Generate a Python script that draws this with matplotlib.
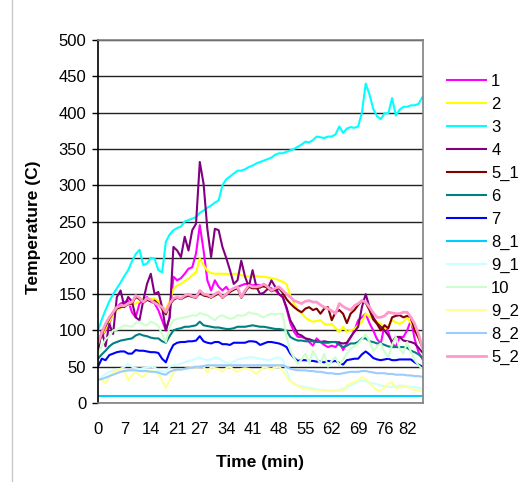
import matplotlib
matplotlib.use('Agg')
import matplotlib.pyplot as plt
from matplotlib.lines import Line2D
import numpy as np

plt.rcParams['font.family'] = ['Liberation Sans', 'DejaVu Sans']

# one reading per minute, 0..86
time = np.arange(87)

s1 = [86, 91, 100, 109, 125, 132, 137, 139, 141, 125,
      118, 137, 142, 146, 140, 137, 128, 114, 100, 118,
      174, 169, 172, 178, 185, 187, 206, 245, 210, 169,
      155, 169, 160, 155, 160, 153, 158, 160, 162, 164,
      164, 162, 163, 162, 160, 160, 158, 155, 150, 146,
      130, 110, 98, 91, 91, 89, 84, 79, 89, 84,
      80, 77, 79, 77, 84, 73, 82, 90, 100, 114,
      118, 123, 110, 100, 88, 82, 107, 98, 82, 77,
      91, 91, 100, 114, 88, 70, 61]
s2 = [84, 92, 102, 112, 122, 128, 131, 134, 135, 136,
      137, 140, 143, 144, 144, 144, 140, 132, 130, 140,
      157, 162, 164, 168, 171, 176, 180, 199, 190, 182,
      179, 178, 178, 178, 178, 177, 178, 178, 176, 175,
      174, 174, 175, 174, 174, 173, 172, 171, 169, 167,
      164, 148, 137, 128, 123, 118, 114, 112, 113, 114,
      109, 108, 109, 103, 98, 105, 98, 100, 102, 107,
      112, 123, 119, 116, 112, 109, 102, 106, 114, 111,
      109, 112, 118, 110, 102, 89, 77]
s3 = [100, 115, 128, 140, 150, 158, 166, 175, 183, 195,
      205, 211, 190, 192, 200, 199, 183, 180, 222, 232,
      238, 241, 243, 250, 252, 254, 256, 262, 265, 269,
      272, 276, 279, 300, 308, 312, 316, 320, 320, 322,
      325, 327, 330, 332, 334, 336, 338, 342, 344, 344,
      346, 348, 350, 353, 356, 360, 359, 362, 367, 366,
      365, 367, 367, 370, 381, 372, 378, 380, 379, 381,
      400, 440, 425, 405, 395, 391, 399, 399, 420, 396,
      404, 408, 408, 410, 410, 412, 421]
s4 = [72, 100, 78, 109, 95, 146, 155, 132, 146, 140,
      118, 114, 141, 164, 178, 150, 153, 132, 100, 118,
      215, 210, 201, 229, 210, 238, 247, 332, 302, 240,
      201, 240, 238, 215, 200, 183, 164, 169, 196, 174,
      160, 183, 160, 150, 152, 157, 169, 160, 150, 146,
      132, 114, 105, 95, 93, 89, 88, 86, 85, 84,
      85, 84, 84, 84, 83, 82, 83, 91, 98, 105,
      132, 150, 132, 118, 110, 105, 100, 93, 84, 91,
      91, 86, 85, 84, 82, 76, 70]
s5_1 = [80, 95, 106, 116, 124, 130, 132, 133, 136, 137,
        146, 143, 138, 142, 140, 141, 136, 130, 122, 135,
        142, 145, 143, 146, 148, 146, 145, 152, 148, 147,
        145, 148, 151, 145, 149, 153, 156, 158, 145, 153,
        160, 158, 158, 159, 162, 158, 154, 156, 158, 152,
        143, 137, 132, 128, 125, 130, 132, 128, 130, 123,
        130, 132, 114, 125, 128, 123, 110, 123, 128, 135,
        141, 138, 128, 115, 109, 100, 107, 103, 118, 120,
        121, 118, 120, 118, 100, 90, 77]
s6 = [61, 67, 72, 78, 82, 84, 86, 87, 88, 89,
      93, 95, 93, 92, 90, 89, 89, 85, 83, 92,
      100, 102, 103, 105, 105, 106, 107, 112, 107, 106,
      105, 104, 104, 103, 102, 102, 103, 105, 105, 105,
      106, 107, 106, 105, 105, 104, 103, 102, 102, 101,
      100, 91, 88, 86, 86, 85, 85, 85, 84, 84,
      83, 83, 84, 84, 80, 77, 79, 82, 82, 84,
      89, 89, 85, 84, 82, 82, 80, 78, 77, 77,
      77, 77, 76, 72, 70, 67, 63]
s7 = [50, 61, 59, 66, 68, 70, 71, 71, 68, 68,
      73, 72, 72, 71, 70, 70, 69, 61, 56, 70,
      80, 83, 84, 84, 85, 85, 86, 92, 85, 83,
      82, 84, 84, 81, 81, 80, 83, 83, 83, 83,
      85, 85, 84, 80, 82, 84, 84, 83, 82, 80,
      77, 68, 62, 58, 59, 59, 58, 58, 57, 57,
      56, 58, 57, 58, 55, 53, 59, 60, 61, 61,
      67, 71, 67, 62, 60, 59, 60, 61, 59, 59,
      60, 60, 60, 60, 56, 53, 50]
s8_1 = [10] * 87
s9_1 = [33, 36, 40, 43, 45, 46, 47, 50, 54, 50,
        48, 47, 48, 49, 50, 49, 45, 44, 43, 50,
        52, 53, 54, 56, 58, 59, 61, 63, 60, 59,
        60, 63, 62, 58, 56, 54, 57, 60, 61, 62,
        63, 63, 62, 61, 60, 59, 60, 62, 63, 60,
        45, 31, 26, 24, 23, 22, 21, 20, 19, 18,
        18, 17, 17, 17, 18, 20, 22, 24, 27, 29,
        31, 30, 28, 27, 26, 24, 23, 22, 22, 23,
        24, 24, 23, 22, 22, 21, 20]
s10 = [68, 78, 88, 92, 100, 101, 104, 107, 106, 105,
       110, 112, 108, 107, 112, 110, 106, 95, 84, 105,
       114, 116, 117, 118, 119, 121, 120, 124, 122, 121,
       117, 114, 119, 121, 118, 116, 117, 121, 120, 121,
       125, 123, 123, 120, 118, 121, 123, 122, 123, 123,
       91, 72, 62, 54, 60, 68, 54, 72, 62, 54,
       68, 50, 58, 63, 52, 60, 68, 75, 78, 82,
       88, 95, 84, 72, 78, 82, 70, 63, 80, 91,
       75, 68, 84, 70, 59, 52, 47]
s9_2 = [36, 31, 27, 36, 42, 45, 47, 45, 31, 38,
        43, 38, 36, 42, 45, 43, 40, 31, 21, 31,
        42, 45, 46, 47, 48, 50, 49, 50, 50, 42,
        50, 48, 47, 43, 48, 50, 46, 43, 47, 48,
        47, 44, 40, 45, 50, 48, 47, 49, 50, 45,
        36, 30, 27, 23, 21, 20, 19, 18, 18, 18,
        17, 17, 17, 17, 17, 17, 24, 27, 29, 31,
        36, 33, 27, 22, 18, 17, 22, 26, 29, 20,
        22, 22, 22, 20, 18, 17, 17]
s8_2 = [32, 33, 35, 37, 39, 41, 43, 44, 45, 45,
        45, 44, 44, 44, 43, 43, 42, 40, 39, 43,
        45, 46, 46, 47, 48, 49, 50, 50, 51, 52,
        52, 52, 52, 52, 52, 52, 52, 52, 52, 52,
        52, 52, 52, 52, 52, 52, 52, 52, 52, 52,
        50, 47, 46, 45, 45, 45, 44, 44, 43, 43,
        42, 41, 41, 40, 40, 41, 42, 43, 43, 43,
        44, 44, 43, 42, 41, 41, 41, 40, 40, 39,
        39, 39, 38, 38, 37, 37, 36]
s5_2 = [82, 97, 109, 118, 125, 132, 134, 134, 137, 139,
        148, 145, 139, 144, 142, 138, 135, 132, 125, 137,
        144, 146, 144, 148, 150, 147, 146, 155, 150, 149,
        146, 150, 153, 146, 150, 155, 158, 160, 146, 155,
        162, 160, 160, 161, 164, 160, 155, 158, 160, 155,
        150, 146, 141, 139, 137, 140, 141, 139, 139, 135,
        132, 130, 127, 123, 137, 133, 130, 128, 134, 137,
        141, 139, 132, 124, 118, 118, 120, 125, 124, 123,
        123, 125, 125, 118, 109, 95, 77]

labels = ['1', '2', '3', '4', '5_1', '6', '7', '8_1', '9_1', '10', '9_2', '8_2', '5_2']
series = [s1, s2, s3, s4, s5_1, s6, s7, s8_1, s9_1, s10, s9_2, s8_2, s5_2]
colors = ['#FF00FF', '#FFFF00', '#00FFFF', '#800080', '#800000', '#008080', '#0000FF',
          '#00CCFF', '#CCFFFF', '#CCFFCC', '#FFFF99', '#99CCFF', '#FF99CC']

xtick_labels = [0, 7, 14, 21, 27, 34, 41, 48, 55, 62, 69, 76, 82]

fig = plt.figure(figsize=(5.2, 4.82), dpi=100)
ax = fig.add_axes([98 / 520, 79 / 482, 325 / 520, 363 / 482])

for lab, vals, c in zip(labels, series, colors):
    lw = 2.0 if lab == '5_2' else 1.5
    ax.plot(time, vals, color=c, lw=lw, label=lab)

ax.set_xlim(0, 86.2)
ax.set_ylim(0, 500)
ax.set_yticks(np.arange(0, 501, 50))
ax.set_xticks(xtick_labels)
ax.set_xticklabels([str(v) for v in xtick_labels])
ax.grid(axis='y', color='#222222', lw=1.0)
ax.set_axisbelow(True)

ax.tick_params(axis='y', length=4.5, width=1, color='black', pad=4, labelsize=12)
ax.tick_params(axis='x', length=0, pad=14, labelsize=12)
for side in ['top', 'right', 'bottom']:
    ax.spines[side].set_color('#808080')
    ax.spines[side].set_linewidth(1.2)
ax.spines['left'].set_color('black')
ax.spines['left'].set_linewidth(1.2)

ax.set_xlabel('Time (min)', fontsize=12.5, fontweight='bold', labelpad=13)
ax.set_ylabel('Temperature (C)', fontsize=12.5, fontweight='bold')
ax.yaxis.set_label_coords(-0.175, 0.485)

ax.legend(loc='upper left', bbox_to_anchor=(447 / 520, 1 - 74 / 482),
          bbox_transform=fig.transFigure, frameon=False, fontsize=12,
          handlelength=2.35, handletextpad=0.3, labelspacing=0.475,
          borderpad=0, borderaxespad=0)

# outer chart frame edge
fig.add_artist(Line2D([12 / 520, 12 / 520], [0, 1], transform=fig.transFigure,
                      color='#c8c8c8', lw=1))

fig.savefig('out.png', dpi=100)
